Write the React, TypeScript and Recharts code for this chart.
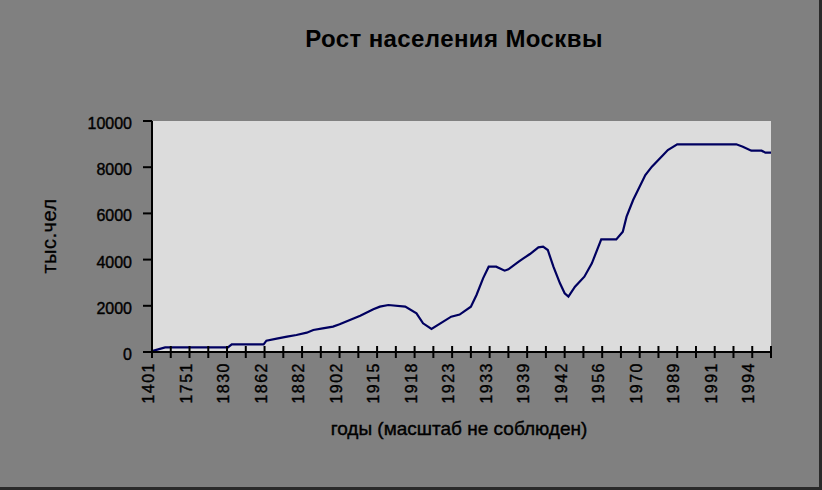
import React from 'react';
import { LineChart, Line, XAxis, YAxis, CartesianGrid } from 'recharts';

// Category tick labels (every second category is labelled)
const tickLabels: string[] = [
  '1401', '', '1751', '', '1830', '', '1862', '', '1882', '', '1902', '', '1915', '', '1918', '',
  '1923', '', '1933', '', '1939', '', '1942', '', '1956', '', '1970', '', '1989', '', '1991', '',
  '1994', '',
];

// Positions along the category axis (in category units) of the line's vertices
const positions: number[] = [
  0, 0.7, 4.05, 4.25, 5.95, 6.1, 6.65, 7.2, 7.7, 8.25, 8.6, 9.1, 9.65, 10.0, 10.55, 11.1,
  11.8, 12.15, 12.6, 13.5, 14.1, 14.45, 14.9, 15.95, 16.4, 17.0, 17.3, 17.65, 17.95, 18.35,
  18.8, 19.0, 19.55, 19.8, 20.15, 20.6, 20.85, 21.1, 21.4, 21.75, 22.0, 22.2, 22.55, 23.05,
  23.45, 23.95, 24.75, 25.1, 25.3, 25.65, 26.3, 26.65, 27.25, 27.5, 28.0, 31.15, 31.5, 31.95,
  32.5, 32.7, 33,
];

// Population of Moscow, thousands of people
const population: number[] = [
  40, 200, 200, 330, 330, 490, 577, 664, 736, 837, 952, 1025, 1097, 1198, 1385, 1573,
  1847, 1962, 2035, 1962, 1674, 1241, 996, 1530, 1620, 1962, 2468, 3189, 3694, 3694,
  3521, 3579, 3911, 4055, 4242, 4531, 4560, 4416, 3694, 2973, 2540, 2395, 2828, 3261,
  3838, 4877, 4877, 5209, 5859, 6580, 7662, 8023, 8528, 8745, 8990, 8990, 8889, 8716,
  8716, 8630, 8630,
];

const yTicks: number[] = [0, 2000, 4000, 6000, 8000, 10000];

const data = positions.map((x, i) => ({ x, value: population[i] }));
const xTicks = tickLabels.map((_, i) => i);

const FONT = '"Liberation Sans", Arial, sans-serif';

const XTick = (props: any) => {
  const { x, y, payload } = props;
  const label = tickLabels[payload.value] ?? '';
  const bx = x + 2;
  const by = y + 4;
  return (
    <g>
      <line x1={x} x2={x} y1={y - 12} y2={y} stroke="#000" strokeWidth={2} />
      {label ? (
        <text
          x={bx}
          y={by}
          transform={`rotate(-90, ${bx}, ${by})`}
          textAnchor="end"
          fontSize={16}
          letterSpacing={1.5}
          fontFamily={FONT}
          fill="#000"
          stroke="#000"
          strokeWidth={0.4}
        >
          {label}
        </text>
      ) : null}
    </g>
  );
};

const YTick = (props: any) => {
  const { x, y, payload } = props;
  return (
    <text
      x={x}
      y={y + 8}
      textAnchor="end"
      fontSize={16}
      fontFamily={FONT}
      fill="#000"
      stroke="#000"
      strokeWidth={0.4}
    >
      {payload.value}
    </text>
  );
};

export default function App() {
  return (
    <div
      style={{
        position: 'absolute',
        left: 0,
        top: 0,
        width: 822,
        height: 490,
        background: '#808080',
        overflow: 'hidden',
      }}
    >
      <LineChart
        width={822}
        height={490}
        data={data}
        margin={{ top: 121, right: 51, left: 92, bottom: 108 }}
      >
        <CartesianGrid horizontal={false} vertical={false} fill="#DCDCDC" />
        <XAxis
          dataKey="x"
          type="number"
          domain={[0, 33]}
          ticks={xTicks}
          interval={0}
          height={30}
          tickLine={false}
          tickSize={6}
          tickMargin={0}
          axisLine={{ stroke: '#000', strokeWidth: 2 }}
          tick={<XTick />}
        />
        <YAxis
          type="number"
          domain={[0, 10000]}
          ticks={yTicks}
          interval={0}
          width={60}
          tickSize={9}
          tickMargin={11}
          tickLine={{ stroke: '#000', strokeWidth: 2 }}
          axisLine={{ stroke: '#000', strokeWidth: 2 }}
          tick={<YTick />}
        />
        <Line
          type="linear"
          dataKey="value"
          stroke="#000060"
          strokeWidth={2.2}
          dot={false}
          isAnimationActive={false}
        />
      </LineChart>
      <svg
        width={822}
        height={490}
        style={{ position: 'absolute', left: 0, top: 0, pointerEvents: 'none' }}
      >
        <text
          x={454}
          y={47}
          textAnchor="middle"
          fontSize={24}
          fontWeight="bold"
          letterSpacing={0.4}
          fontFamily={FONT}
          fill="#000"
        >
          Рост населения Москвы
        </text>
        <text
          x={459}
          y={435}
          textAnchor="middle"
          fontSize={19}
          fontFamily={FONT}
          fill="#000"
          stroke="#000"
          strokeWidth={0.4}
        >
          годы (масштаб не соблюден)
        </text>
        <text
          x={56}
          y={236}
          transform="rotate(-90, 56, 236)"
          textAnchor="middle"
          fontSize={20}
          letterSpacing={0.5}
          fontFamily={FONT}
          fill="#000"
          stroke="#000"
          strokeWidth={0.3}
        >
          тыс.чел
        </text>
      </svg>
      <div
        style={{
          position: 'absolute',
          right: 0,
          top: 0,
          width: 3,
          height: 490,
          background: '#2a2a2a',
        }}
      />
      <div
        style={{
          position: 'absolute',
          left: 0,
          bottom: 0,
          width: 822,
          height: 3,
          background: '#2a2a2a',
        }}
      />
    </div>
  );
}
